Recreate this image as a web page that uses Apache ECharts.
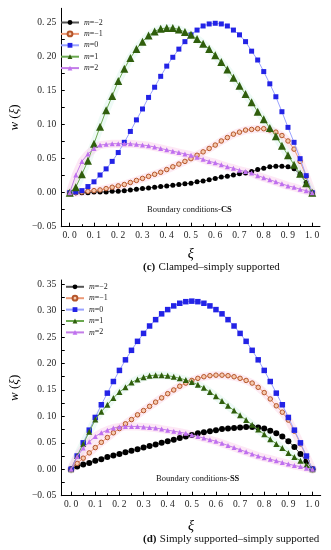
<!DOCTYPE html>
<html><head><meta charset="utf-8">
<script src="https://cdn.jsdelivr.net/npm/echarts@6/dist/echarts.min.js"></script>
<style>html,body{margin:0;padding:0;background:#fff}#c{width:331px;height:550px}</style>
</head><body><div id="c"></div>
<script>
const xi = [0,0.025,0.05,0.075,0.1,0.125,0.15,0.175,0.2,0.225,0.25,0.275,0.3,0.325,0.35,0.375,0.4,0.425,0.45,0.475,0.5,0.525,0.55,0.575,0.6,0.625,0.65,0.675,0.7,0.725,0.75,0.775,0.8,0.825,0.85,0.875,0.9,0.925,0.95,0.975,1];
const seriesNames = ['m=\u22122','m=\u22121','m=0','m=1','m=2'];

// (c) Clamped–simply supported
const csM2 = [0,0,0,0,0.001,0.001,0.001,0.002,0.002,0.003,0.004,0.005,0.006,0.007,0.008,0.009,0.010,0.011,0.012,0.013,0.014,0.016,0.017,0.019,0.021,0.023,0.024,0.026,0.028,0.029,0.031,0.034,0.036,0.038,0.039,0.039,0.038,0.035,0.027,0.015,0];
const csM1 = [0,0,0.001,0.002,0.003,0.004,0.006,0.008,0.010,0.012,0.015,0.018,0.021,0.024,0.027,0.030,0.034,0.038,0.042,0.046,0.050,0.055,0.060,0.065,0.070,0.076,0.081,0.086,0.089,0.092,0.093,0.094,0.094,0.092,0.089,0.084,0.076,0.064,0.046,0.024,0];
const cs0  = [0,0.001,0.003,0.009,0.016,0.026,0.035,0.046,0.059,0.074,0.090,0.107,0.123,0.140,0.155,0.171,0.186,0.199,0.211,0.222,0.232,0.239,0.245,0.248,0.249,0.248,0.245,0.239,0.232,0.222,0.208,0.195,0.178,0.160,0.141,0.119,0.096,0.074,0.050,0.025,0];
const csP1 = [0,0.008,0.027,0.047,0.072,0.097,0.121,0.142,0.164,0.182,0.198,0.211,0.222,0.231,0.237,0.241,0.242,0.242,0.240,0.236,0.232,0.226,0.219,0.211,0.202,0.192,0.181,0.169,0.157,0.145,0.133,0.119,0.108,0.095,0.083,0.069,0.055,0.041,0.028,0.014,0];
const csP2 = [0,0.026,0.046,0.057,0.065,0.070,0.071,0.072,0.072,0.072,0.072,0.071,0.070,0.069,0.067,0.065,0.063,0.061,0.059,0.057,0.055,0.052,0.049,0.046,0.044,0.041,0.038,0.036,0.033,0.031,0.029,0.025,0.022,0.019,0.016,0.013,0.010,0.008,0.005,0.003,0];

// (d) Simply supported–simply supported
const ssM2 = [0,0.005,0.009,0.012,0.016,0.019,0.023,0.026,0.029,0.032,0.035,0.038,0.041,0.044,0.047,0.050,0.053,0.056,0.059,0.062,0.065,0.068,0.070,0.072,0.074,0.076,0.077,0.078,0.079,0.080,0.080,0.079,0.077,0.073,0.068,0.062,0.053,0.042,0.029,0.015,0];
const ssM1 = [0,0.011,0.021,0.031,0.041,0.051,0.060,0.069,0.077,0.086,0.094,0.103,0.111,0.119,0.127,0.135,0.143,0.150,0.157,0.163,0.168,0.172,0.175,0.177,0.178,0.178,0.177,0.175,0.172,0.168,0.163,0.155,0.145,0.133,0.120,0.108,0.093,0.072,0.048,0.024,0];
const ss0  = [0,0.025,0.050,0.074,0.098,0.122,0.144,0.166,0.187,0.207,0.225,0.242,0.257,0.271,0.283,0.294,0.302,0.309,0.314,0.317,0.318,0.317,0.314,0.309,0.302,0.294,0.283,0.271,0.257,0.242,0.225,0.207,0.187,0.166,0.144,0.122,0.098,0.074,0.050,0.025,0];
const ssP1 = [0,0.025,0.048,0.071,0.094,0.109,0.122,0.135,0.146,0.155,0.164,0.170,0.174,0.177,0.178,0.178,0.177,0.175,0.172,0.169,0.165,0.160,0.154,0.146,0.138,0.129,0.120,0.111,0.102,0.093,0.084,0.075,0.066,0.057,0.048,0.040,0.031,0.023,0.016,0.008,0];
const ssP2 = [0,0.024,0.040,0.052,0.062,0.069,0.074,0.078,0.080,0.081,0.081,0.081,0.080,0.079,0.078,0.076,0.074,0.072,0.070,0.068,0.065,0.062,0.059,0.056,0.053,0.049,0.045,0.041,0.037,0.033,0.029,0.025,0.022,0.019,0.016,0.013,0.010,0.007,0.005,0.002,0];

const xMajor = [0,0.1,0.2,0.3,0.4,0.5,0.6,0.7,0.8,0.9,1.0];
const xMinor = [0.05,0.15,0.25,0.35,0.45,0.55,0.65,0.75,0.85,0.95];
const yMajorCS = [-0.05,0,0.05,0.10,0.15,0.20,0.25];
const yTickCS = [-0.05,-0.025,0,0.025,0.05,0.075,0.10,0.125,0.15,0.175,0.20,0.225,0.25];
const yMajorSS = [-0.05,0,0.05,0.10,0.15,0.20,0.25,0.30,0.35];
const yTickSS = [-0.05,-0.025,0,0.025,0.05,0.075,0.10,0.125,0.15,0.175,0.20,0.225,0.25,0.275,0.30,0.325,0.35];

const serif = '"Liberation Serif","DejaVu Serif",serif';
const chart = echarts.init(document.getElementById('c'));

const styles = [
  {symbol:'circle', size:[5,6], fill:'#000', border:'#000', line:'#555', halo:null},
  {symbol:'circle', size:[4.5,4.5], fill:'#f6c9ae', border:'#b4552a', line:'#ec9a78', halo:'rgba(250,190,215,0.3)'},
  {symbol:'rect', size:[5,5.5], fill:'#2323e6', border:'#2323e6', line:'#9aa2ff', halo:null},
  {symbol:'triangle', size:[8,6], fill:'#2f5e0c', border:'#2f5e0c', line:'#6aa84f', halo:'rgba(200,240,225,0.3)'},
  {symbol:'triangle', size:[5,5], fill:'#c070f0', border:'#9a40d0', line:'#c37de8', halo:'rgba(250,190,225,0.35)'}
];
const sets = [[csM2,csM1,cs0,csP1,csP2],[ssM2,ssM1,ss0,ssP1,ssP2]];
function pairs(v){ return xi.map((x,i)=>[x,v[i]]); }

const series = [];
sets.forEach((vals,g)=>{
  vals.forEach((v,k)=>{
    const s = styles[k];
    if (s.halo) series.push({name:'halo'+g+k, type:'line', xAxisIndex:g*2, yAxisIndex:g, data:pairs(v),
      symbol:'none', silent:true, z:1, lineStyle:{color:s.halo, width:8, cap:'round', join:'round'}});
  });
  vals.forEach((v,k)=>{
    const s = styles[k];
    series.push({name:seriesNames[k], type:'line', xAxisIndex:g*2, yAxisIndex:g, data:pairs(v),
      symbol:s.symbol, symbolSize:s.size[g], z:3+k, animation:false,
      lineStyle:{color:s.line, width:1},
      itemStyle:{color:s.fill, borderColor:s.border, borderWidth: k===1?1:0}});
  });
});

const fmtY = v => (v<0?'\u2212':'') + Math.abs(v).toFixed(2).replace('.', '. ');
const fmtX = v => v.toFixed(1).replace('.', '. ');
const labelStyle = {fontFamily:serif, fontSize:9.5, color:'#222'};

function xAxes(g, min, max, gap){
  return [
    {gridIndex:g, type:'value', min, max, position:'bottom',
     axisLine:{show:true, onZero:false, lineStyle:{color:'#000', width:1}},
     axisTick:{show:true, inside:true, length:4, customValues:xMajor, lineStyle:{color:'#000'}},
     axisLabel:Object.assign({customValues:xMajor, formatter:fmtX, margin:4}, labelStyle),
     splitLine:{show:false},
     name:'ξ', nameLocation:'middle', nameGap:gap,
     nameTextStyle:{fontFamily:serif, fontStyle:'italic', fontSize:14, color:'#000'}},
    {gridIndex:g, type:'value', min, max, position:'bottom',
     axisLine:{show:false, onZero:false}, axisLabel:{show:false}, splitLine:{show:false},
     axisTick:{show:true, inside:true, length:2.5, customValues:xMinor, lineStyle:{color:'#000'}}}
  ];
}
function yAxis(g, max, major, ticks){
  return {gridIndex:g, type:'value', min:-0.05, max,
    axisLine:{show:true, onZero:false, lineStyle:{color:'#000', width:1}},
    axisTick:{show:true, inside:true, length:3.5, customValues:ticks, lineStyle:{color:'#000'}},
    axisLabel:Object.assign({customValues:major, formatter:fmtY, margin:5}, labelStyle),
    splitLine:{show:false},
    name:'{i|w} ({i|ξ})', nameLocation:'middle', nameRotate:90, nameGap:30,
    nameTextStyle:{fontFamily:serif, fontSize:13, color:'#000',
      rich:{i:{fontFamily:serif, fontStyle:'italic', fontSize:13, color:'#000'}}}};
}
function legend(g, left, top){
  return {show:true, orient:'vertical', left, top, data:seriesNames,
    itemWidth:18, itemHeight:6, itemGap:3.4, selectedMode:false, padding:0,
    formatter: n => '{i|m}' + n.slice(1),
    textStyle:{fontFamily:serif, fontSize:8, color:'#222', lineHeight:8, height:8,
      rich:{i:{fontFamily:serif, fontStyle:'italic', fontSize:8, color:'#222', lineHeight:8}}}};
}

chart.setOption({
  animation:false,
  backgroundColor:'#fff',
  grid:[
    {left:50, top:8.3, width:270, height:218.4},
    {left:52, top:280, width:268.7, height:215.7}
  ],
  xAxis:[...xAxes(0,-0.035,1.032,21), ...xAxes(1,-0.041,1.034,24)],
  yAxis:[yAxis(0,0.271,yMajorCS,yTickCS), yAxis(1,0.358,yMajorSS,yTickSS)],
  legend:[legend(0,60,18.5), legend(1,65,282.8)],
  series,
  graphic:[
    {type:'text', left:147, top:205.5, z:10, style:{text:'{n|Boundary conditions-}{b|CS}',
      rich:{n:{fontFamily:serif, fontSize:8.5, fill:'#111'}, b:{fontFamily:serif, fontSize:8.5, fontWeight:'bold', fill:'#111'}}}},
    {type:'text', left:156, top:474.5, z:10, style:{text:'{n|Boundary conditions-}{b|SS}',
      rich:{n:{fontFamily:serif, fontSize:8.5, fill:'#111'}, b:{fontFamily:serif, fontSize:8.5, fontWeight:'bold', fill:'#111'}}}},
    {type:'text', left:143, top:261.5, z:10, style:{text:'{b|(c)} {n|Clamped–simply supported}',
      rich:{n:{fontFamily:serif, fontSize:11, fill:'#111'}, b:{fontFamily:serif, fontSize:11, fontWeight:'bold', fill:'#111'}}}},
    {type:'text', left:143, top:533.5, z:10, style:{text:'{b|(d)} {n|Simply supported–simply supported}',
      rich:{n:{fontFamily:serif, fontSize:11, fill:'#111'}, b:{fontFamily:serif, fontSize:11, fontWeight:'bold', fill:'#111'}}}}
  ]
});
</script></body></html>
